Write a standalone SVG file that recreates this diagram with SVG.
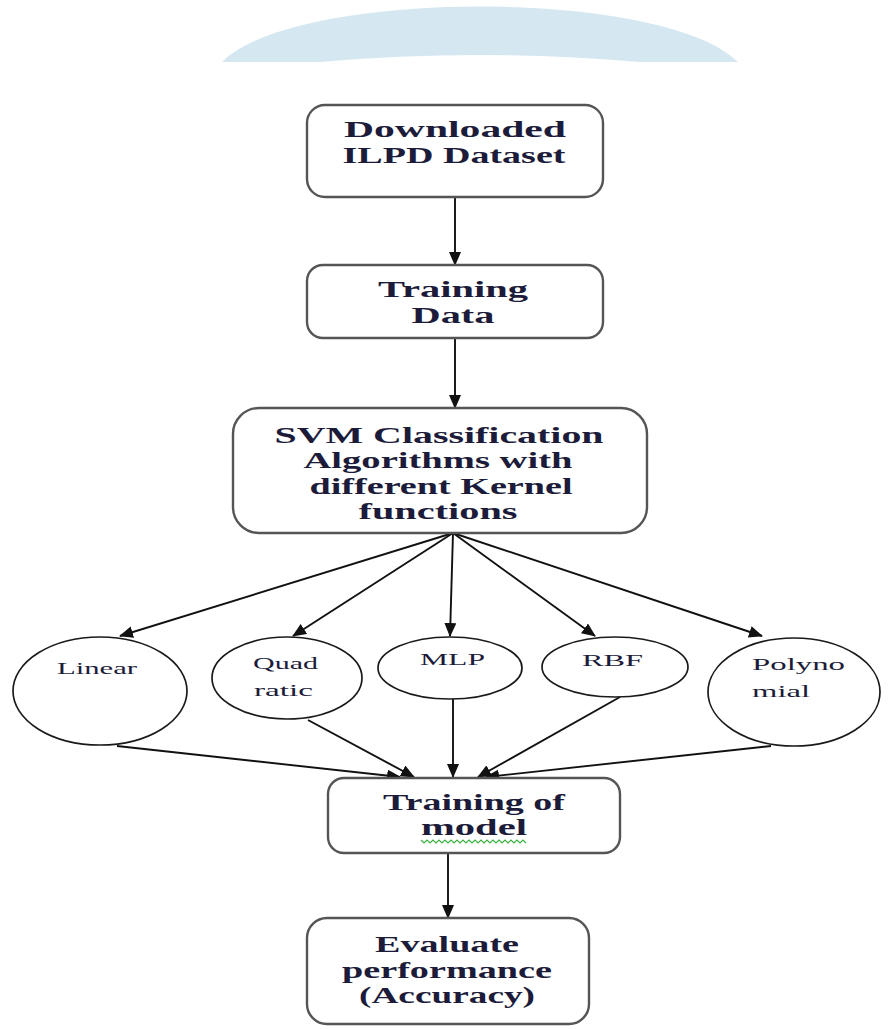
<svg xmlns="http://www.w3.org/2000/svg" width="891" height="1030" viewBox="0 0 891 1030">
<style>
.box{fill:#fff;stroke:#555;stroke-width:2.4}
.ell{fill:#fff;stroke:#1a1a1a;stroke-width:1.7}
.t{font-family:"Liberation Serif","Times New Roman",serif;font-size:23px;font-weight:bold;fill:#1c1c3a;text-anchor:middle}
.s{font-family:"Liberation Serif","Times New Roman",serif;font-size:17px;fill:#1c1c3a}
.c{stroke:#111;stroke-width:1.9;fill:none;marker-end:url(#ah)}
</style>
<defs>
<marker id="ah" markerWidth="14" markerHeight="12" refX="13" refY="6" orient="auto" markerUnits="userSpaceOnUse">
<path d="M0,0 L14,6 L0,12 Z" fill="#111"/>
</marker>
</defs>
<rect width="891" height="1030" fill="#fff"/>
<path d="M222,62 C295,-12 665,-12 738,62 L640,62 Q480,48 320,62 Z" fill="#d5e8f1"/>

<g id="connectors">
<line class="c" x1="455" y1="197" x2="455" y2="265"/>
<line class="c" x1="455" y1="338" x2="455" y2="408"/>
<line class="c" x1="453" y1="533" x2="120" y2="636"/>
<line class="c" x1="453" y1="533" x2="293" y2="636"/>
<line class="c" x1="453" y1="533" x2="450" y2="636"/>
<line class="c" x1="453" y1="533" x2="595" y2="636"/>
<line class="c" x1="453" y1="533" x2="762" y2="636"/>
<line class="c" x1="117" y1="746" x2="400" y2="777"/>
<line class="c" x1="308" y1="720" x2="414" y2="777"/>
<line class="c" x1="453" y1="699" x2="453" y2="777"/>
<line class="c" x1="620" y1="697" x2="478" y2="777"/>
<line class="c" x1="771" y1="746" x2="486" y2="777"/>
<line class="c" x1="448" y1="853" x2="448" y2="918"/>
</g>

<g id="n-download">
<rect class="box" x="307" y="105" width="296" height="92" rx="18"/>
<text class="t" x="455" y="137" textLength="222" lengthAdjust="spacingAndGlyphs">Downloaded</text>
<text class="t" x="454" y="163" textLength="223" lengthAdjust="spacingAndGlyphs">ILPD Dataset</text>
</g>

<g id="n-training">
<rect class="box" x="307" y="265" width="296" height="73" rx="16"/>
<text class="t" x="453" y="297" textLength="150" lengthAdjust="spacingAndGlyphs">Training</text>
<text class="t" x="453" y="323" textLength="83" lengthAdjust="spacingAndGlyphs">Data</text>
</g>

<g id="n-svm">
<rect class="box" x="233" y="408" width="414" height="125" rx="26"/>
<text class="t" x="439" y="443" textLength="329" lengthAdjust="spacingAndGlyphs">SVM Classification</text>
<text class="t" x="438" y="468" textLength="269" lengthAdjust="spacingAndGlyphs">Algorithms with</text>
<text class="t" x="441" y="494" textLength="263" lengthAdjust="spacingAndGlyphs">different Kernel</text>
<text class="t" x="438" y="519" textLength="159" lengthAdjust="spacingAndGlyphs">functions</text>
</g>

<g id="n-linear">
<ellipse class="ell" cx="100" cy="691" rx="87" ry="54"/>
<text class="s" x="57" y="674" textLength="80" lengthAdjust="spacingAndGlyphs">Linear</text>
</g>
<g id="n-quadratic">
<ellipse class="ell" cx="287" cy="678" rx="75" ry="41"/>
<text class="s" x="253" y="669" textLength="65" lengthAdjust="spacingAndGlyphs">Quad</text>
<text class="s" x="254" y="696" textLength="59" lengthAdjust="spacingAndGlyphs">ratic</text>
</g>
<g id="n-mlp">
<ellipse class="ell" cx="450" cy="668" rx="72" ry="31"/>
<text class="s" x="420" y="665" textLength="65" lengthAdjust="spacingAndGlyphs">MLP</text>
</g>
<g id="n-rbf">
<ellipse class="ell" cx="615" cy="667" rx="73" ry="30"/>
<text class="s" x="582" y="666" textLength="61" lengthAdjust="spacingAndGlyphs">RBF</text>
</g>
<g id="n-polynomial">
<ellipse class="ell" cx="794" cy="692" rx="86" ry="54"/>
<text class="s" x="752" y="670" textLength="93" lengthAdjust="spacingAndGlyphs">Polyno</text>
<text class="s" x="752" y="697" textLength="58" lengthAdjust="spacingAndGlyphs">mial</text>
</g>

<g id="n-trainmodel">
<rect class="box" x="328" y="778" width="292" height="75" rx="16"/>
<text class="t" x="474" y="810" textLength="182" lengthAdjust="spacingAndGlyphs">Training of</text>
<text class="t" x="474" y="835" textLength="106" lengthAdjust="spacingAndGlyphs">model</text>
<path d="M421,840 l3,3 l3,-3 l3,3 l3,-3 l3,3 l3,-3 l3,3 l3,-3 l3,3 l3,-3 l3,3 l3,-3 l3,3 l3,-3 l3,3 l3,-3 l3,3 l3,-3 l3,3 l3,-3 l3,3 l3,-3 l3,3 l3,-3 l3,3 l3,-3 l3,3 l3,-3 l3,3 l3,-3 l3,3 l3,-3 l3,3 l3,-3 l3,3" fill="none" stroke="#3cb043" stroke-width="1.2"/>
</g>

<g id="n-evaluate">
<rect class="box" x="307" y="918" width="282" height="106" rx="20"/>
<text class="t" x="447" y="952" textLength="144" lengthAdjust="spacingAndGlyphs">Evaluate</text>
<text class="t" x="447" y="978" textLength="210" lengthAdjust="spacingAndGlyphs">performance</text>
<text class="t" x="447" y="1003" textLength="176" lengthAdjust="spacingAndGlyphs">(Accuracy)</text>
</g>
</svg>
